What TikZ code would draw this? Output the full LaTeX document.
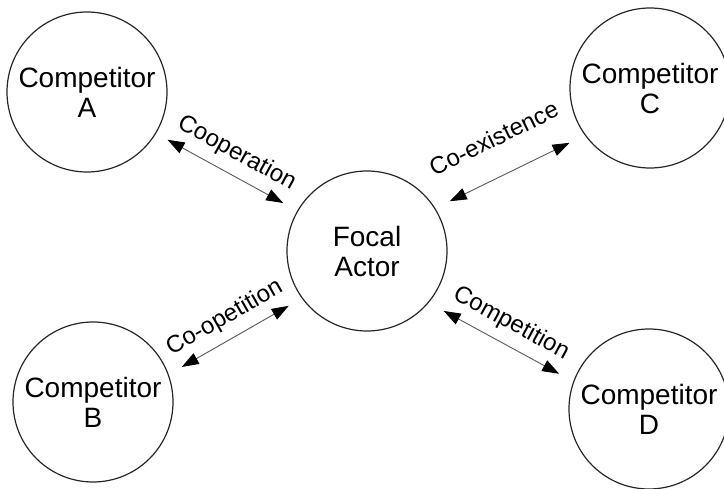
\documentclass[tikz,border=0pt]{standalone}
\usepackage{fontspec}
\setmainfont{Liberation Sans}
\usetikzlibrary{arrows.meta}
\begin{document}
\begin{tikzpicture}[x=1pt,y=-1pt,
  actor/.style={circle, draw=black!85, line width=1.2pt, minimum size=160pt, inner sep=0pt,
    align=center, font=\fontsize{28}{30}\selectfont},
  rel/.style={{Triangle[length=17pt,width=12pt,color=black]}-{Triangle[length=17pt,width=12pt,color=black]},
    line width=0.9pt, draw=black!65},
  lbl/.style={sloped, midway, above=12pt, inner sep=0pt, text height=0.75em, text depth=0.25em,
    font=\fontsize{24}{26}\selectfont}]
\useasboundingbox (0,0) rectangle (724,489);
\node[actor] (A) at (87,92) {Competitor\\A};
\node[actor] (C) at (650,88) {Competitor\\C};
\node[actor] (B) at (93,402) {Competitor\\B};
\node[actor] (D) at (649,409) {Competitor\\D};
\node[actor] (F) at (367,251) {Focal\\Actor};
\draw[rel, shorten <=13pt, shorten >=16pt] (A.-31) -- (F.150) node[lbl] {Cooperation};
\draw[rel, shorten <=16pt, shorten >=17pt] (F.32) -- (C.216) node[lbl, above=14pt] {Co-existence};
\draw[rel, shorten <=15pt, shorten >=15pt] (B.20) -- (F.216) node[lbl] {Co-opetition};
\draw[rel, shorten <=17pt, shorten >=16pt] (F.-40) -- (D.160) node[lbl] {Competition};
\end{tikzpicture}
\end{document}
